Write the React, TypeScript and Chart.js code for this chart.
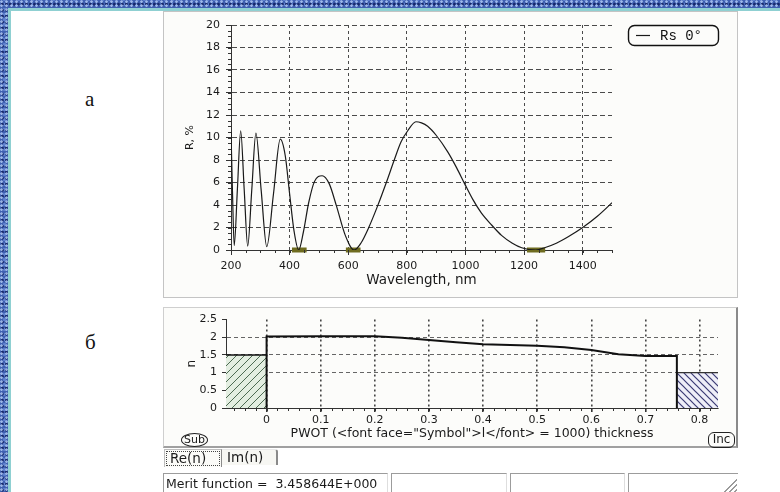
import React, { useEffect, useRef } from "react";
import { Chart, registerables } from "chart.js";

Chart.register(...registerables);

const FONT = "'DejaVu Sans', Verdana, sans-serif";
const INK = "#1a1a1a";

// Spectral reflectance Rs at normal incidence, %
const wavelengthNm = [
  200, 205, 211, 222, 233, 245, 257, 271, 285, 303, 322, 345, 368, 385, 400, 415, 431,
  447, 465, 485, 511, 535, 560, 590, 620, 643, 670, 700, 730, 757, 780, 803, 831, 850,
  871, 900, 940, 970, 997, 1025, 1054, 1090, 1123, 1160, 1192, 1240, 1270, 1310, 1352,
  1400, 1450, 1500,
];
const reflectancePct = [
  10.5, 5.2, 0.4, 5.5, 10.6, 5.4, 0.35, 5.4, 10.4, 5.3, 0.3, 5.0, 9.85, 8.4, 5.0, 1.7, 0.0,
  1.6, 4.2, 6.1, 6.6, 5.9, 3.9, 1.3, 0.0, 0.6, 2.0, 3.9, 6.0, 8.0, 9.6, 10.6, 11.4, 11.3,
  11.0, 10.2, 8.7, 7.3, 5.9, 4.5, 3.3, 2.2, 1.3, 0.6, 0.2, 0.0, 0.2, 0.6, 1.2,
  2.0, 3.0, 4.2,
];
// Target bands marked along the wavelength axis, nm
const targetBandStart = [408, 592, 1210];
const targetBandEnd = [458, 642, 1272];
const wavelengthTicks = [200, 400, 600, 800, 1000, 1200, 1400];
const reflectanceTicks = [0, 2, 4, 6, 8, 10, 12, 14, 16, 18, 20];

// Refractive index profile against optical thickness
const thicknessPwot = [0, 0, 0.1, 0.2, 0.25, 0.3, 0.35, 0.4, 0.45, 0.5, 0.55, 0.6, 0.65, 0.7, 0.758, 0.758];
const indexN = [0, 2.02, 2.03, 2.03, 1.99, 1.92, 1.86, 1.8, 1.78, 1.76, 1.72, 1.64, 1.52, 1.47, 1.47, 0];
const substrateSpan = [-0.075, 0];
const substrateN = 1.5;
const ambientSpan = [0.758, 0.834];
const ambientN = 1.0;
const thicknessTicks = [0, 0.1, 0.2, 0.3, 0.4, 0.5, 0.6, 0.7, 0.8];
const indexTicks = [0, 0.5, 1, 1.5, 2, 2.5];
const indexGridLevels = [1, 1.5, 2];

// Short tick marks between the labelled ones
const minorTicks = {
  id: "minorTicks",
  afterDraw(chart: any, _args: any, opts: any) {
    const { ctx, chartArea } = chart;
    const xs = chart.scales.x;
    const ys = chart.scales.y;
    ctx.save();
    ctx.strokeStyle = opts.color;
    ctx.lineWidth = 1;
    ctx.beginPath();
    if (opts.xStep) {
      const i0 = Math.ceil(xs.min / opts.xStep - 1e-9);
      const i1 = Math.floor(xs.max / opts.xStep + 1e-9);
      for (let i = i0; i <= i1; i++) {
        const px = Math.round(xs.getPixelForValue(i * opts.xStep)) + 0.5;
        ctx.moveTo(px, chartArea.bottom);
        ctx.lineTo(px, chartArea.bottom + opts.length);
      }
    }
    if (opts.yStep) {
      const i0 = Math.ceil(ys.min / opts.yStep - 1e-9);
      const i1 = Math.floor(ys.max / opts.yStep + 1e-9);
      for (let i = i0; i <= i1; i++) {
        const py = Math.round(ys.getPixelForValue(i * opts.yStep)) + 0.5;
        ctx.moveTo(chartArea.left, py);
        ctx.lineTo(chartArea.left - opts.length, py);
      }
    }
    ctx.stroke();
    ctx.restore();
  },
};

// Legend in a rounded frame to the right of the plot
const boxedLegend = {
  id: "boxedLegend",
  afterDraw(chart: any) {
    const { ctx, chartArea } = chart;
    const ds = chart.data.datasets[0];
    const x = chartArea.right + 16;
    const y = chartArea.top;
    const w = 90;
    const h = 20;
    ctx.save();
    ctx.strokeStyle = "#111";
    ctx.lineWidth = 1.4;
    ctx.beginPath();
    ctx.roundRect(x + 0.5, y + 0.5, w, h, 6);
    ctx.stroke();
    ctx.strokeStyle = ds.borderColor;
    ctx.lineWidth = 1.2;
    ctx.beginPath();
    ctx.moveTo(x + 8, y + 10.5);
    ctx.lineTo(x + 22, y + 10.5);
    ctx.stroke();
    ctx.fillStyle = "#111";
    ctx.font = "14px 'Liberation Mono', 'Courier New', monospace";
    ctx.textBaseline = "middle";
    ctx.fillText(ds.label, x + 32, y + 11);
    ctx.restore();
  },
};

function hatch(ctx: CanvasRenderingContext2D, bg: string, fg: string, size: number, rising: boolean, width: number) {
  const tile = document.createElement("canvas");
  tile.width = size;
  tile.height = size;
  const g = tile.getContext("2d")!;
  g.fillStyle = bg;
  g.fillRect(0, 0, size, size);
  g.strokeStyle = fg;
  g.lineWidth = width;
  g.beginPath();
  if (rising) {
    g.moveTo(0, size);
    g.lineTo(size, 0);
    g.moveTo(-1, 1);
    g.lineTo(1, -1);
    g.moveTo(size - 1, size + 1);
    g.lineTo(size + 1, size - 1);
  } else {
    g.moveTo(0, 0);
    g.lineTo(size, size);
    g.moveTo(size - 1, -1);
    g.lineTo(size + 1, 1);
    g.moveTo(-1, size - 1);
    g.lineTo(1, size + 1);
  }
  g.stroke();
  return ctx.createPattern(tile, "repeat");
}

const tickFont = { family: FONT, size: 11 };

export default function App() {
  const spectrumRef = useRef<HTMLCanvasElement>(null);
  const profileRef = useRef<HTMLCanvasElement>(null);

  useEffect(() => {
    const bands: any[] = [];
    targetBandStart.forEach((a, i) => {
      bands.push({ x: a, y: 0 }, { x: targetBandEnd[i], y: 0 }, { x: targetBandEnd[i], y: null });
    });

    const spectrum = new Chart(spectrumRef.current!, {
      type: "line",
      data: {
        datasets: [
          {
            label: "Rs 0°",
            data: wavelengthNm.map((x, i) => ({ x, y: reflectancePct[i] })),
            borderColor: "#1a1a1a",
            borderWidth: 1.2,
            pointRadius: 0,
            cubicInterpolationMode: "monotone",
          },
          {
            label: "target",
            data: bands,
            borderColor: "#6f6c20",
            borderWidth: 5,
            borderCapStyle: "butt",
            pointRadius: 0,
            spanGaps: false,
            clip: 6,
          },
        ],
      },
      options: {
        animation: false,
        responsive: false,
        maintainAspectRatio: false,
        layout: { padding: { left: 12, right: 125, top: 13, bottom: 2 } },
        plugins: {
          legend: { display: false },
          tooltip: { enabled: false },
          minorTicks: { xStep: 50, yStep: 0.5, length: 3, color: "#333" },
        } as any,
        scales: {
          x: {
            type: "linear",
            min: 200,
            max: 1500,
            afterBuildTicks: (s: any) => {
              s.ticks = wavelengthTicks.map((v) => ({ value: v }));
            },
            afterFit: (s: any) => {
              s.height = 45;
            },
            grid: { color: "#4a4a4a", lineWidth: 1, tickLength: 5, tickColor: "#333", tickBorderDash: [] },
            border: { color: "#333", width: 1, dash: [3, 3] },
            ticks: { color: INK, font: tickFont, padding: 5, maxRotation: 0, callback: (v: any) => String(v) },
            title: {
              display: true,
              text: "Wavelength, nm",
              color: INK,
              font: { family: FONT, size: 13.5 },
              padding: { top: 0, bottom: 6.9 },
            },
          },
          y: {
            type: "linear",
            min: 0,
            max: 20,
            afterBuildTicks: (s: any) => {
              s.ticks = reflectanceTicks.map((v) => ({ value: v }));
            },
            afterFit: (s: any) => {
              s.width = 55;
            },
            grid: {
              color: (c: any) => (c.tick && c.tick.value === 0 ? "rgba(0,0,0,0)" : "#4a4a4a"),
              lineWidth: 1,
              tickLength: 5,
              tickColor: "#333",
              tickBorderDash: [],
            },
            border: { color: "#333", width: 1, dash: [5, 3] },
            ticks: { color: INK, font: tickFont, padding: 6, callback: (v: any) => String(v) },
            title: {
              display: true,
              text: "R, %",
              color: INK,
              font: { family: FONT, size: 11 },
              padding: { top: 7.4, bottom: 0 },
            },
          },
        },
      },
      plugins: [minorTicks, boxedLegend],
    } as any);

    const pctx = profileRef.current!.getContext("2d")!;
    const subPattern = hatch(pctx, "#e3eee1", "#4d6b52", 8, true, 1);
    const incPattern = hatch(pctx, "#eeeef8", "#3a3a74", 7, false, 1.2);

    const profile = new Chart(profileRef.current!, {
      type: "line",
      data: {
        datasets: [
          {
            label: "n",
            data: thicknessPwot.map((x, i) => ({ x, y: indexN[i] })),
            borderColor: "#111",
            borderWidth: 2,
            pointRadius: 0,
            tension: 0,
          },
          {
            label: "Sub",
            data: substrateSpan.map((x) => ({ x, y: substrateN })),
            borderColor: "#111",
            borderWidth: 1.5,
            backgroundColor: subPattern,
            fill: "origin",
            pointRadius: 0,
          },
          {
            label: "Inc",
            data: ambientSpan.map((x) => ({ x, y: ambientN })),
            borderColor: "#333",
            borderWidth: 1.2,
            backgroundColor: incPattern,
            fill: "origin",
            pointRadius: 0,
          },
        ],
      },
      options: {
        animation: false,
        responsive: false,
        maintainAspectRatio: false,
        layout: { padding: { left: 10, right: 18, top: 7, bottom: 0 } },
        plugins: {
          legend: { display: false },
          tooltip: { enabled: false },
          minorTicks: { xStep: 0.02, length: 3, color: "#333" },
        } as any,
        scales: {
          x: {
            type: "linear",
            min: substrateSpan[0],
            max: ambientSpan[1],
            afterBuildTicks: (s: any) => {
              s.ticks = thicknessTicks.map((v) => ({ value: v }));
            },
            afterFit: (s: any) => {
              s.height = 38;
            },
            grid: { color: "#444", lineWidth: 1.6, tickLength: 4, tickColor: "#333", tickBorderDash: [] },
            border: { color: "#333", width: 1, dash: [2, 3] },
            ticks: { color: INK, font: tickFont, padding: 2, maxRotation: 0, callback: (v: any) => String(v) },
            title: {
              display: true,
              text: 'PWOT (<font face="Symbol">l</font> = 1000) thickness',
              color: INK,
              font: { family: FONT, size: 12.5 },
              padding: { top: 0, bottom: 5.2 },
            },
          },
          y: {
            type: "linear",
            min: 0,
            max: 2.5,
            afterBuildTicks: (s: any) => {
              s.ticks = indexTicks.map((v) => ({ value: v }));
            },
            afterFit: (s: any) => {
              s.width = 52;
            },
            grid: {
              color: (c: any) => (c.tick && indexGridLevels.includes(c.tick.value) ? "#666" : "rgba(0,0,0,0)"),
              lineWidth: 1,
              tickLength: 4,
              tickColor: "#333",
              tickBorderDash: [],
            },
            border: { color: "#333", width: 1, dash: [4, 3] },
            ticks: { color: INK, font: tickFont, padding: 5, callback: (v: any) => String(v) },
            title: {
              display: true,
              text: "n",
              color: INK,
              font: { family: FONT, size: 12 },
              padding: { top: 10.5, bottom: 0 },
            },
          },
        },
      },
      plugins: [minorTicks],
    } as any);

    return () => {
      spectrum.destroy();
      profile.destroy();
    };
  }, []);

  const abs = (s: React.CSSProperties): React.CSSProperties => ({ position: "absolute", boxSizing: "border-box", ...s });
  const uiFont = FONT;

  return (
    <div
      style={{
        position: "fixed",
        left: 0,
        top: 0,
        width: 780,
        height: 492,
        overflow: "hidden",
        background:
          "radial-gradient(circle at 30% 40%, rgba(175,200,245,0.85) 0 0.9px, transparent 1.6px) 0 0 / 5px 4px, " +
          "radial-gradient(circle at 60% 70%, rgba(15,30,95,0.85) 0 1px, transparent 1.8px) 0 0 / 4px 6px, " +
          "radial-gradient(circle at 50% 50%, rgba(110,145,220,0.7) 0 1.2px, transparent 2px) 1px 2px / 7px 5px, " +
          "#3f60b0",
      }}
    >
      <div style={abs({ left: 8, top: 8, right: 0, bottom: 0, background: "#8fd0d2" })} />
      <div style={abs({ left: 11, top: 11, right: 0, bottom: 0, background: "#ffffff" })} />

      <div style={abs({ left: 85, top: 89, font: "21px 'Liberation Serif', 'Times New Roman', serif", lineHeight: "21px", color: "#111" })}>а</div>
      <div style={abs({ left: 85, top: 332, font: "21px 'Liberation Serif', 'Times New Roman', serif", lineHeight: "21px", color: "#111" })}>б</div>

      {/* spectrum panel */}
      <div style={abs({ left: 163, top: 11, width: 575, height: 287, border: "1px solid #c4c4c4", background: "#fcfcfa" })}>
        <canvas ref={spectrumRef} width={573} height={285} style={{ display: "block", width: 573, height: 285 }} />
      </div>

      {/* index profile panel */}
      <div
        style={abs({
          left: 163,
          top: 307,
          width: 575,
          height: 141,
          borderTop: "1px solid #cfcfcf",
          borderLeft: "1px solid #cfcfcf",
          borderRight: "2px solid #8a8a8a",
          borderBottom: "2px solid #a0a0a0",
          background: "#fcfcfa",
        })}
      >
        <canvas ref={profileRef} width={572} height={138} style={{ display: "block", width: 572, height: 138 }} />
      </div>

      <div
        style={abs({
          left: 181,
          top: 433,
          width: 27,
          height: 14,
          border: "1px solid #222",
          borderRadius: "50%",
          font: `11px ${uiFont}`,
          lineHeight: "12px",
          textAlign: "center",
          color: INK,
        })}
      >
        Sub
      </div>
      <div
        style={abs({
          left: 708,
          top: 432,
          width: 27,
          height: 16,
          border: "1.5px solid #222",
          borderRadius: 6,
          font: `12px ${uiFont}`,
          lineHeight: "13px",
          textAlign: "center",
          color: INK,
        })}
      >
        Inc
      </div>

      {/* tabs */}
      <div
        style={abs({
          left: 222,
          top: 449,
          width: 56,
          height: 16,
          borderTop: "1px solid #e8e8e8",
          borderRight: "2px solid #8a8a8a",
          borderTopRightRadius: 3,
          background: "#f7f7f3",
          font: `13.5px ${uiFont}`,
          lineHeight: "15px",
          paddingLeft: 5,
          color: INK,
        })}
      >
        Im(n)
      </div>
      <div
        style={abs({
          left: 164,
          top: 449,
          width: 58,
          height: 18,
          borderTop: "1px solid #bdbdbd",
          borderLeft: "1px solid #bdbdbd",
          borderRight: "1px solid #8a8a8a",
          background: "#fbfbf8",
          padding: 1,
        })}
      >
        <div
          style={{
            border: "1px dotted #444",
            height: 15,
            boxSizing: "border-box",
            font: `13.5px ${uiFont}`,
            lineHeight: "13px",
            paddingLeft: 3,
            color: INK,
          }}
        >
          Re(n)
        </div>
      </div>

      {/* status bar */}
      <div
        style={abs({
          left: 163,
          top: 473,
          width: 225,
          height: 22,
          borderTop: "1px solid #9c9c9c",
          borderLeft: "1px solid #9c9c9c",
          borderRight: "1px solid #dedede",
          font: `12.5px ${uiFont}`,
          lineHeight: "20px",
          paddingLeft: 2,
          whiteSpace: "nowrap",
          color: INK,
        })}
      >
        Merit function = &nbsp;3.458644E+000
      </div>
      <div style={abs({ left: 391, top: 473, width: 116, height: 22, borderTop: "1px solid #9c9c9c", borderLeft: "1px solid #9c9c9c", borderRight: "1px solid #dedede" })} />
      <div style={abs({ left: 510, top: 473, width: 115, height: 22, borderTop: "1px solid #9c9c9c", borderLeft: "1px solid #9c9c9c", borderRight: "1px solid #dedede" })} />
      <div style={abs({ left: 628, top: 473, width: 110, height: 22, borderTop: "1px solid #9c9c9c", borderLeft: "1px solid #9c9c9c" })} />
      <div
        style={abs({
          left: 724,
          top: 479,
          width: 13,
          height: 13,
          background:
            "linear-gradient(135deg, transparent 0 48%, #9a9a9a 48% 55%, transparent 55% 68%, #9a9a9a 68% 75%, transparent 75% 86%, #9a9a9a 86% 93%, transparent 93%)",
        })}
      />
    </div>
  );
}
